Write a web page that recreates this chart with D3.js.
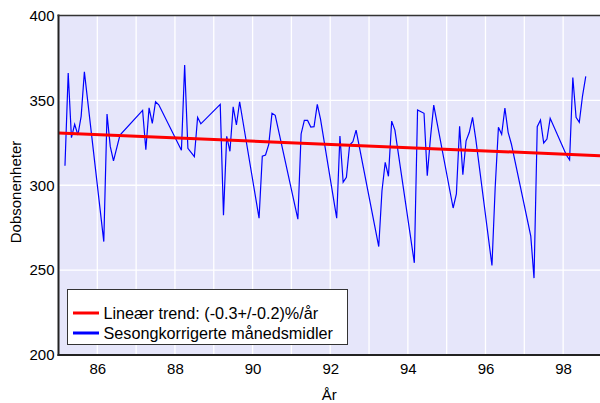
<!DOCTYPE html>
<html>
<head>
<meta charset="utf-8">
<script src="https://cdn.jsdelivr.net/npm/d3@7"></script>
<style>
  html, body { margin: 0; padding: 0; background: #ffffff; }
  svg { display: block; }
  text { font-family: "Liberation Sans", Arial, sans-serif; }
</style>
</head>
<body>
<svg id="chart" width="600" height="403"></svg>
<script>
// ---- data (year of observation, month 1-12, Dobson units) ----
const obsYear = [
  1985,1985,1985,1985,1985,1985,1985,
  1986,1986,1986,1986,1986,
  1987,1987,1987,1987,1987,1987,
  1988,1988,1988,1988,1988,1988,
  1989,1989,1989,1989,1989,1989,1989,
  1990,1990,1990,1990,1990,1990,
  1991,1991,1991,1991,1991,1991,1991,1991,
  1992,1992,1992,1992,1992,1992,1992,
  1993,1993,1993,1993,1993,1993,
  1994,1994,1994,1994,1994,1994,
  1995,1995,1995,1995,1995,1995,1995,1995,
  1996,1996,1996,1996,1996,1996,1996,
  1997,1997,1997,1997,1997,1997,1997,
  1998,1998,1998,1998,1998,1998,1998
];
const obsMonth = [
  2,3,4,5,6,7,8,
  2,3,4,5,7,
  2,3,4,5,6,7,
  2,3,4,6,7,8,
  2,3,4,5,6,7,8,
  2,3,4,5,6,7,
  2,3,4,5,6,7,8,9,
  2,3,4,5,6,7,8,
  3,4,5,6,7,8,
  2,3,5,6,7,8,
  2,3,4,5,6,7,8,9,
  2,3,4,5,6,7,8,
  2,3,4,5,6,7,8,
  1,2,3,4,5,6,7
];
const ozoneDU = [
  311.5,366.1,328.0,335.9,329.6,340.6,366.8,
  266.8,341.9,322.9,314.3,329.6,
  344.1,320.9,345.6,336.5,349.2,347.4,
  320.6,370.8,321.8,316.8,340.0,336.2,
  347.6,282.4,328.8,320.0,346.2,335.5,349.2,
  280.6,317.1,317.8,324.1,342.4,341.2,
  280.0,330.2,338.2,338.2,334.3,334.5,347.6,339.0,
  280.6,329.0,301.8,304.7,323.7,325.6,332.5,
  263.9,296.8,313.5,305.3,337.8,332.5,
  254.3,344.3,342.4,305.6,328.2,347.2,
  286.6,294.9,334.7,306.2,326.2,331.2,340.0,327.2,
  252.7,298.8,334.1,330.0,345.5,331.2,324.3,
  270.0,245.3,334.5,338.4,324.9,327.2,339.4,
  317.8,314.9,363.5,340.0,337.1,352.7,364.1
];
// linear trend: value at start of 1985 and slope (DU per year)
const trendStartYear = 85;
const trendStartValue = 330.8;
const trendSlope = -0.96;

const xTicks = [86, 88, 90, 92, 94, 96, 98];
const xGrid = [86, 87, 88, 89, 90, 91, 92, 93, 94, 95, 96, 97, 98];
const yTicks = [200, 250, 300, 350, 400];
const legendLabels = ["Lineær trend: (-0.3+/-0.2)%/år", "Sesongkorrigerte månedsmidler"];
const xTitle = "År";
const yTitle = "Dobsonenheter";

// ---- drawing ----
const svg = d3.select("#chart");
const W = 600, H = 403;
const m = { left: 58.5, right: 0, top: 15.5, bottom: 48 };
const pw = W - m.left - m.right, ph = H - m.top - m.bottom;

const x = d3.scaleLinear().domain([85, 98.95]).range([m.left, W - m.right]);
const y = d3.scaleLinear().domain([200, 400]).range([H - m.bottom, m.top]);

const pts = obsYear.map((yr, i) => ({ t: (yr - 1900) + obsMonth[i] / 12, v: ozoneDU[i] }));

svg.append("rect").attr("x", m.left).attr("y", m.top)
  .attr("width", pw).attr("height", ph).attr("fill", "#e6e6fa");

// grid
svg.append("g").selectAll("line").data(xGrid).join("line")
  .attr("x1", d => x(d)).attr("x2", d => x(d))
  .attr("y1", m.top).attr("y2", H - m.bottom)
  .attr("stroke", "#ffffff").attr("stroke-width", 1.3);
svg.append("g").selectAll("line").data(yTicks.slice(1, -1)).join("line")
  .attr("x1", m.left).attr("x2", W - m.right)
  .attr("y1", d => y(d)).attr("y2", d => y(d))
  .attr("stroke", "#ffffff").attr("stroke-width", 1.3);

// axes
const xAxis = d3.axisBottom(x).tickValues(xTicks).tickSize(0).tickPadding(8).tickFormat(d3.format("d"));
const gx = svg.append("g").attr("transform", `translate(0,${H - m.bottom})`).call(xAxis);
gx.select(".domain").remove();
gx.selectAll("text").attr("font-size", 15).attr("fill", "#000")
  .attr("font-family", "'Liberation Sans', Arial, sans-serif");

const yAxis = d3.axisLeft(y).tickValues(yTicks).tickSize(0).tickPadding(4);
const gy = svg.append("g").attr("transform", `translate(${m.left},0)`).call(yAxis);
gy.select(".domain").remove();
gy.selectAll("text").attr("font-size", 15).attr("fill", "#000")
  .attr("font-family", "'Liberation Sans', Arial, sans-serif");

// series
svg.append("clipPath").attr("id", "clip").append("rect")
  .attr("x", m.left).attr("y", m.top).attr("width", pw).attr("height", ph);

const line = d3.line().x(d => x(d.t)).y(d => y(d.v));
svg.append("path").datum(pts).attr("d", line)
  .attr("fill", "none").attr("stroke", "#0000ff").attr("stroke-width", 1.2)
  .attr("stroke-linejoin", "miter").attr("clip-path", "url(#clip)");

const trendPts = x.domain().map(t => ({ t, v: trendStartValue + trendSlope * (t - trendStartYear) }));
svg.append("path").datum(trendPts).attr("d", line)
  .attr("fill", "none").attr("stroke", "#ff0000").attr("stroke-width", 3)
  .attr("clip-path", "url(#clip)");

// frame
svg.append("line").attr("x1", m.left).attr("x2", m.left).attr("y1", m.top - 1).attr("y2", H - m.bottom + 1)
  .attr("stroke", "#222").attr("stroke-width", 2);
svg.append("line").attr("x1", m.left - 1).attr("x2", W).attr("y1", H - m.bottom).attr("y2", H - m.bottom)
  .attr("stroke", "#222").attr("stroke-width", 2);
svg.append("line").attr("x1", m.left - 1).attr("x2", W).attr("y1", m.top).attr("y2", m.top)
  .attr("stroke", "#333").attr("stroke-width", 1.5);

// titles
svg.append("text").attr("x", (m.left + W) / 2).attr("y", 400)
  .attr("text-anchor", "middle").attr("font-size", 15).text(xTitle);
svg.append("text").attr("transform", `translate(21,192) rotate(-90)`)
  .attr("text-anchor", "middle").attr("font-size", 15).text(yTitle);

// legend
const lg = svg.append("g");
lg.append("rect").attr("x", 67.5).attr("y", 289.5).attr("width", 280).attr("height", 55)
  .attr("fill", "#ffffff").attr("stroke", "#333").attr("stroke-width", 1);
const colors = ["#ff0000", "#0000ff"];
legendLabels.forEach((lab, i) => {
  const yy = 313 + i * 20;
  lg.append("line").attr("x1", 73).attr("x2", 99).attr("y1", yy).attr("y2", yy)
    .attr("stroke", colors[i]).attr("stroke-width", 3);
  lg.append("text").attr("x", 103.5).attr("y", yy + 5.5).attr("font-size", 16.2).text(lab);
});
</script>
</body>
</html>
